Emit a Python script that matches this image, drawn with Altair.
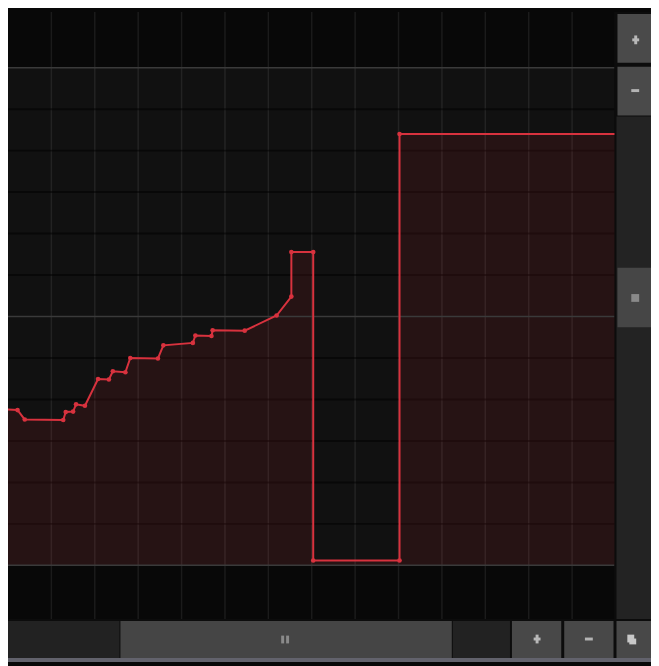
import altair as alt
import pandas as pd

# ---------------- data ----------------
key_time = [-0.2, 0.22, 0.386, 1.273, 1.33, 1.5, 1.568, 1.773, 2.075, 2.325,
            2.416, 2.705, 2.818, 3.455, 3.58, 4.26, 4.318, 4.689, 4.716, 5.455,
            6.19, 6.53, 6.53, 7.034, 7.034, 9.023, 9.023, 15.0]
key_value = [0.314, 0.312, 0.293, 0.292, 0.308, 0.309, 0.3235, 0.3206, 0.3745, 0.3735,
             0.390, 0.388, 0.4167, 0.4157, 0.442, 0.447, 0.4618, 0.4608, 0.4725, 0.4716,
             0.502, 0.540, 0.6294, 0.6294, 0.0098, 0.0098, 0.8667, 0.8667]
time_grid = list(range(1, 15))
major_levels = [0.0, 0.5, 1.0]
minor_levels = [k / 12 for k in range(1, 12) if k != 6]

# ---------------- view geometry ----------------
W, H = 651, 658
XMIN, XMAX = 0.0, 652 / 44
YMIN, YMAX = (567 - 666) / 510, 567 / 510
X_END = (622 - 7) / 44          # right end of the curve area
Y_BOTTOM = (567 - 622) / 510    # bottom end of the curve area

xs = alt.Scale(domain=[XMIN, XMAX], nice=False, zero=False)
ys = alt.Scale(domain=[YMIN, YMAX], nice=False, zero=False)


def X(f):
    return alt.X(f, type="quantitative", scale=xs, axis=None)


def Y(f):
    return alt.Y(f, type="quantitative", scale=ys, axis=None)


# pixel (reference) -> data units, for the editor chrome
def ux(p):
    return (p - 7) / 44


def uy(p):
    return (567 - p) / 510


keys = pd.DataFrame({"t": key_time, "v": key_value,
                     "base": 0.0, "i": range(len(key_time))})
markers = keys.iloc[1:-1]

band = pd.DataFrame({"x0": [0.0], "x1": [X_END], "y0": [0.0], "y1": [1.0]})
vgrid = pd.DataFrame({"t": time_grid, "y0": YMAX, "y1": Y_BOTTOM})
minor = pd.DataFrame({"v": minor_levels, "x0": 0.0, "x1": X_END})
major = pd.DataFrame({"v": major_levels, "x0": 0.0, "x1": X_END})

band_l = alt.Chart(band).mark_rect(color="#111111").encode(
    x=X("x0"), x2="x1", y=Y("y0"), y2="y1")
vgrid_l = alt.Chart(vgrid).mark_rule(color="#ffffff", opacity=0.08, strokeWidth=1.5).encode(
    x=X("t"), y=Y("y0"), y2="y1")
minor_l = alt.Chart(minor).mark_rule(color="#000000", opacity=0.5, strokeWidth=2).encode(
    y=Y("v"), x=X("x0"), x2="x1")
major_l = alt.Chart(major).mark_rule(color="#3a3a3a", strokeWidth=1.5).encode(
    y=Y("v"), x=X("x0"), x2="x1")

area_l = alt.Chart(keys).mark_area(color="#c42a33", fillOpacity=0.12, clip=True).encode(
    x=X("t"), y=Y("v"), y2="base")
line_l = alt.Chart(keys).mark_line(color="#d8323e", strokeWidth=2, clip=True).encode(
    x=X("t"), y=Y("v"), order="i:Q")
pts_l = alt.Chart(markers).mark_circle(color="#d8323e", size=22, opacity=1, clip=True).encode(
    x=X("t"), y=Y("v"))

# ---------------- editor chrome (scrollbars / buttons) ----------------
chrome_px = [
    (622, 659, 0, 624, "#0c0c0c"),
    (624, 659, 107, 622, "#232323"),
    (625, 659, 2, 52, "#4a4a4a"),
    (625, 659, 56, 106, "#4a4a4a"),
    (625, 659, 262, 323, "#464646"),
    (7, 659, 622, 662, "#0c0c0c"),
    (7, 120, 624, 662, "#222222"),
    (121, 457, 624, 662, "#454545"),
    (458, 516, 624, 662, "#222222"),
    (518, 568, 624, 662, "#484848"),
    (571, 621, 624, 662, "#484848"),
    (624, 659, 624, 662, "#484848"),
    (0, 659, 662, 666, "#62626c"),
    # icons
    (639, 647, 79, 82, "#b4b4b4"),
    (592, 600, 641, 644, "#b4b4b4"),
    (640, 647, 27, 30, "#b8b8b8"),
    (642, 645, 24, 33, "#b8b8b8"),
    (540, 547, 641, 644, "#b8b8b8"),
    (542, 545, 638, 647, "#b8b8b8"),
    (639, 647, 289, 297, "#8a8a8a"),
    (284, 287, 639, 647, "#8a8a8a"),
    (289, 292, 639, 647, "#8a8a8a"),
    (635, 642, 638, 646, "#c8c8c8"),
    (637, 644, 642, 648, "#c8c8c8"),
]
chrome = pd.DataFrame({
    "x0": [ux(c[0]) for c in chrome_px],
    "x1": [ux(c[1]) for c in chrome_px],
    "y0": [uy(c[2]) for c in chrome_px],
    "y1": [uy(c[3]) for c in chrome_px],
    "c": [c[4] for c in chrome_px],
    "o": range(len(chrome_px)),
})
chrome_l = alt.Chart(chrome).mark_rect().encode(
    x=X("x0"), x2="x1", y=Y("y0"), y2="y1",
    color=alt.Color("c:N", scale=None, legend=None),
    order="o:Q")

chart = alt.layer(
    band_l, vgrid_l, minor_l, area_l, major_l, line_l, pts_l, chrome_l
).properties(
    width=W, height=H, padding=0, autosize="none", background="#080808"
).configure_view(stroke=None)

chart.save("out.html", embed_options={"renderer": "svg", "actions": False})
